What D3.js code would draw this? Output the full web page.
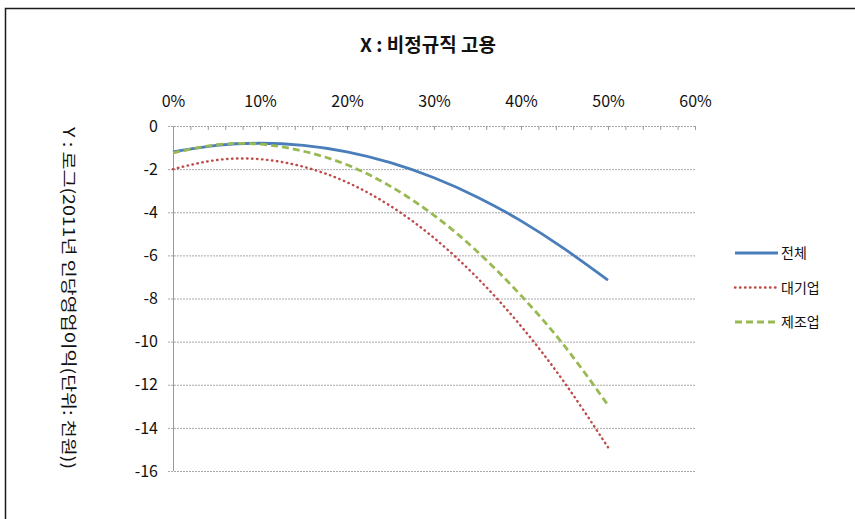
<!DOCTYPE html>
<html><head><meta charset="utf-8">
<script src="https://cdn.jsdelivr.net/npm/d3@7"></script>
<style>body{margin:0;background:#fff;}svg{display:block;}</style>
</head><body>
<svg id="c" width="855" height="519"></svg>
<script>
const xPercents = [0, 5, 10, 15, 20, 25, 30, 35, 40, 45, 50];
const total = [-1.2, -0.9, -0.8, -0.9, -1.2, -1.7, -2.4, -3.3, -4.4, -5.7, -7.15];
const large = [-2.0, -1.58, -1.54, -1.89, -2.61, -3.71, -5.19, -7.05, -9.28, -11.9, -14.9];
const manuf = [-1.25, -0.87, -0.84, -1.17, -1.8, -2.8, -4.14, -5.83, -7.86, -10.2, -12.95];
const seriesNames = ["전체", "대기업", "제조업"];
const xTicks = [0, 10, 20, 30, 40, 50, 60];
const yTicks = [0, -2, -4, -6, -8, -10, -12, -14, -16];
const titleText = "X : 비정규직 고용";
const yTitleText = "Y : 로그(2011년 인당영업이익(단위: 천원))";

const font = "'Noto Sans CJK KR', 'Noto Sans', sans-serif";
const svg = d3.select("#c");
const x = d3.scaleLinear().domain([0, 60]).range([173, 695]);
const y = d3.scaleLinear().domain([0, -16]).range([126, 471]);

// outer border
svg.append("rect").attr("x", 5.5).attr("y", 8.5).attr("width", 870).attr("height", 530)
  .attr("fill", "none").attr("stroke", "#1a1a1a").attr("stroke-width", 1.5);

// title
svg.append("text").attr("x", 428).attr("y", 52).attr("text-anchor", "middle")
  .attr("font-family", font).attr("font-weight", "bold").attr("font-size", 19)
  .attr("fill", "#111").text(titleText);

// gridlines
const yAxis = d3.axisLeft(y).tickValues(yTicks).tickSize(-(695 - 173)).tickSizeOuter(0)
  .tickFormat(d => d === 0 ? "0" : d3.format("d")(d).replace("−", "-"));
const gy = svg.append("g").attr("transform", "translate(173,0)").call(yAxis);
gy.select(".domain").remove();
gy.selectAll(".tick line").attr("x1", -5).attr("stroke", "#a8a8a8").attr("stroke-dasharray", "2,1");
gy.selectAll(".tick text").attr("x", -15).attr("font-family", font).attr("font-size", 16).attr("fill", "#111");

// y axis line
svg.append("line").attr("x1", 173.5).attr("x2", 173.5).attr("y1", 126).attr("y2", 471)
  .attr("stroke", "#9a9a9a");

// x axis on top
const xAxis = d3.axisTop(x).tickValues(xTicks).tickSize(0).tickFormat(d => d + "%");
const gx = svg.append("g").attr("transform", "translate(0,110)").call(xAxis);
gx.select(".domain").remove();
gx.selectAll(".tick text").attr("font-family", font).attr("font-size", 16).attr("fill", "#111");

// minor ticks on top axis
const minor = d3.range(0, 61, 2);
svg.append("g").selectAll("line").data(minor).join("line")
  .attr("x1", d => x(d) + 0.5).attr("x2", d => x(d) + 0.5)
  .attr("y1", 126).attr("y2", 130).attr("stroke", "#9a9a9a");

// y title
svg.append("text").attr("transform", "translate(63,298) rotate(90)")
  .attr("text-anchor", "middle").attr("font-family", font).attr("font-size", 16)
  .attr("textLength", 342).attr("lengthAdjust", "spacingAndGlyphs")
  .attr("fill", "#111").text(yTitleText);

const series = [
  {name: seriesNames[0], vals: total, color: "#4A7EBB", dash: null, w: 2.8, cap: "butt"},
  {name: seriesNames[1], vals: large, color: "#BE4B48", dash: "0.5,4.5", w: 2.4, cap: "round"},
  {name: seriesNames[2], vals: manuf, color: "#98B954", dash: "7,4", w: 2.8, cap: "butt"}
];
const line = d3.line().x(d => x(d[0])).y(d => y(d[1])).curve(d3.curveNatural);
series.forEach(s => {
  svg.append("path").datum(xPercents.map((p, i) => [p, s.vals[i]]))
    .attr("d", line).attr("fill", "none").attr("stroke", s.color)
    .attr("stroke-width", s.w).attr("stroke-linecap", s.cap)
    .attr("stroke-dasharray", s.dash);
});

// legend
const lg = svg.append("g");
series.forEach((s, i) => {
  const yy = 253 + i * 34.5;
  lg.append("line").attr("x1", 735).attr("x2", 778).attr("y1", yy).attr("y2", yy)
    .attr("stroke", s.color).attr("stroke-width", s.w).attr("stroke-linecap", s.cap)
    .attr("stroke-dasharray", s.dash);
  lg.append("text").attr("x", 781).attr("y", yy + 5).attr("font-family", font)
    .attr("font-size", 14).attr("fill", "#111").text(s.name);
});
</script>
</body></html>
